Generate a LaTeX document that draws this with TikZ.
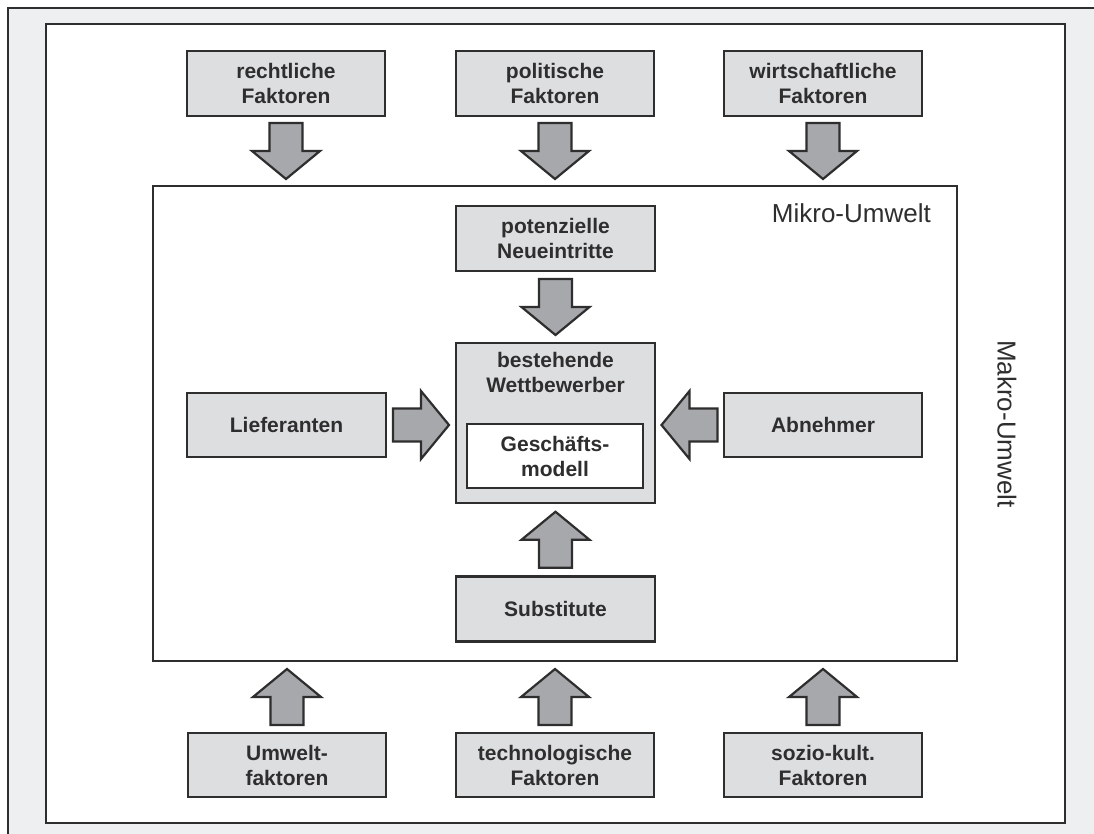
\documentclass[tikz,border=0pt]{standalone}
\usepackage{fontspec}
\setmainfont{Liberation Sans}
\usetikzlibrary{calc}
\definecolor{framebg}{HTML}{EEEFF1}
\definecolor{boxfill}{HTML}{DCDEE0}
\definecolor{arrowfill}{HTML}{A7A8AB}
\definecolor{ink}{HTML}{2E2E2E}
\tikzset{
  factor/.style={draw=ink, line width=2.6pt, fill=boxfill, minimum width=198pt,
    minimum height=65pt, inner sep=0pt, align=center,
    font=\bfseries\fontsize{21}{25}\selectfont, text=ink},
  modelbox/.style={factor, fill=white, minimum width=176pt, minimum height=64pt},
  caption/.style={inner sep=0pt, font=\fontsize{26}{30}\selectfont, text=ink},
  boldtext/.style={inner sep=0pt, align=center, font=\bfseries\fontsize{21}{25}\selectfont, text=ink},
  blockarrow/.style={draw=ink, line width=2.2pt, fill=arrowfill, line join=miter},
  region/.style={draw=ink, line width=2.6pt, fill=white},
}
% block arrow of fixed size, centred between two points, pointing from #1 to #2
\newcommand\flowarrow[2]{%
  \coordinate (fa-p) at (#1);
  \coordinate (fa-q) at (#2);
  \coordinate (fa-m) at ($(fa-p)!0.5!(fa-q)$);
  \coordinate (fa-a) at ($(fa-m)!28pt!(fa-p)$);
  \coordinate (fa-b) at ($(fa-m)!28pt!(fa-q)$);
  \draw[blockarrow] ($(fa-a)!16.5pt!90:(fa-b)$) -- ($(fa-m)!16.5pt!90:(fa-b)$)
    -- ($(fa-m)!34pt!90:(fa-b)$) -- (fa-b) -- ($(fa-m)!34pt!-90:(fa-b)$)
    -- ($(fa-m)!16.5pt!-90:(fa-b)$) -- ($(fa-a)!16.5pt!-90:(fa-b)$) -- cycle;}
\begin{document}
\begin{tikzpicture}[x=1pt,y=-1pt]
\useasboundingbox (0,0) rectangle (1094,834);
\clip (0,0) rectangle (1094,834);
% outer frame (continues past the right and bottom edges)
\draw[ink, line width=2.6pt, fill=framebg] (8,8) rectangle (1120,860);
% macro environment
\node[region, minimum width=1019pt, minimum height=799pt, inner sep=0pt] (makro) at (555.5,423.5) {};
\node[caption, rotate=-90] (makrolabel) at (1007,424) {Makro-Umwelt};
% micro environment
\node[region, minimum width=804pt, minimum height=475pt, inner sep=0pt] (mikro) at (555,423.5) {};
\node[caption, anchor=east] (mikrolabel) at (931,213) {Mikro-Umwelt};

% macro factors, top row
\node[factor] (recht) at (286,83.5) {rechtliche\\Faktoren};
\node[factor] (polit) at (555,83.5) {politische\\Faktoren};
\node[factor] (wirt)  at (823,83.5) {wirtschaftliche\\Faktoren};
% macro factors, bottom row
\node[factor, minimum height=64pt] (umw)   at (287,765) {Umwelt-\\faktoren};
\node[factor, minimum height=64pt] (tech)  at (555,765) {technologische\\Faktoren};
\node[factor, minimum height=64pt] (sozio) at (823,765) {sozio-kult.\\Faktoren};

% five forces
\node[factor, minimum width=199pt] (pot) at (555.5,238.5) {potenzielle\\Neueintritte};
\node[factor, minimum width=199pt, minimum height=160pt] (bw) at (555.5,423) {};
\node[boldtext] (bwtext) at (555.5,372) {bestehende\\Wettbewerber};
\node[modelbox] (model) at (555,456) {Geschäfts-\\modell};
\node[factor, minimum width=199pt, minimum height=64pt] (lief) at (286.5,425) {Lieferanten};
\node[factor, minimum height=64pt] (abn) at (823,425) {Abnehmer};
\node[factor, minimum width=199pt, minimum height=65pt] (sub) at (555.5,609) {Substitute};

% arrows from the macro factors into the micro environment
\flowarrow{recht.south}{recht.south |- mikro.north}
\flowarrow{polit.south}{polit.south |- mikro.north}
\flowarrow{wirt.south}{wirt.south |- mikro.north}
\flowarrow{umw.north}{umw.north |- mikro.south}
\flowarrow{tech.north}{tech.north |- mikro.south}
\flowarrow{sozio.north}{sozio.north |- mikro.south}
% arrows towards the existing competitors
\flowarrow{pot.south}{bw.north}
\flowarrow{sub.north}{bw.south}
\flowarrow{lief.east}{lief.east -| bw.west}
\flowarrow{abn.west}{abn.west -| bw.east}
\end{tikzpicture}
\end{document}
